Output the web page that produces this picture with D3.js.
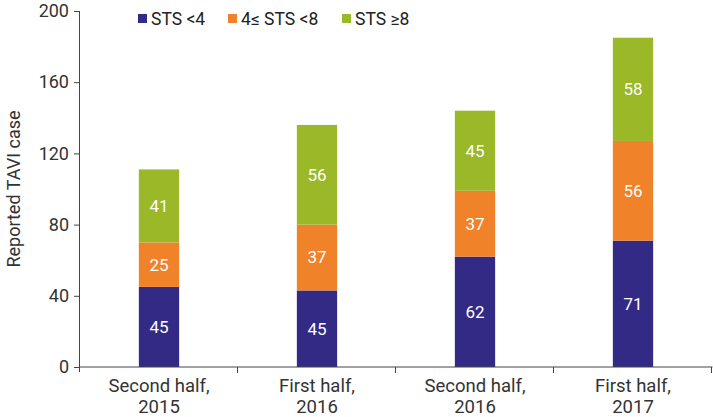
<!DOCTYPE html>
<html><head><meta charset="utf-8">
<script src="https://cdn.jsdelivr.net/npm/d3@7"></script>
<style>body{margin:0;background:#fff}svg{display:block;font-family:Roboto,"Open Sans",sans-serif}</style>
</head><body><svg id="c" width="713" height="417"></svg>
<script>
const categories = [["Second half,","2015"],["First half,","2016"],["Second half,","2016"],["First half,","2017"]];
const seriesNames = ["STS <4","4\u2264 STS <8","STS \u22658"];
const stsLow = [45, 43, 62, 71];
const stsMid = [25, 37, 37, 56];
const stsHigh = [41, 56, 45, 58];
const stsLowLabels = [45, 45, 62, 71];
const stsMidLabels = [25, 37, 37, 56];
const stsHighLabels = [41, 56, 45, 58];
const yTicks = [0, 40, 80, 120, 160, 200];
const colors = ["#332a85", "#f0832a", "#9ab827"];

const svg = d3.select("#c");
const m = {l:80, r:1, t:11, b:50};
const W = 713, H = 417;
const x = d3.scaleBand().domain(d3.range(categories.length)).range([m.l, W - m.r]).paddingInner(0.745).paddingOuter(0.3725);
const y = d3.scaleLinear().domain([0, 200]).range([367, 11]);

const labels = [stsLowLabels, stsMidLabels, stsHighLabels];
const rows = d3.range(categories.length).map(i => ({i, s0: stsLow[i], s1: stsMid[i], s2: stsHigh[i]}));
const stack = d3.stack().keys(["s0","s1","s2"])(rows);

stack.forEach((layer, k) => {
  const g = svg.append("g");
  g.selectAll("rect").data(layer).join("rect")
    .attr("x", d => x(d.data.i)).attr("width", x.bandwidth())
    .attr("y", d => y(d[1])).attr("height", d => y(d[0]) - y(d[1]))
    .attr("fill", colors[k]);
  g.selectAll("text").data(layer).join("text")
    .attr("x", d => x(d.data.i) + x.bandwidth()/2)
    .attr("y", d => (y(d[0]) + y(d[1]))/2)
    .attr("dy", "0.35em").attr("text-anchor", "middle")
    .attr("fill", "#fff").attr("font-size", 17)
    .text(d => labels[k][d.data.i]);
});

// y axis
const ya = svg.append("g").attr("transform", `translate(${m.l},0)`)
  .call(d3.axisLeft(y).tickValues(yTicks).tickSize(6).tickPadding(5));
ya.select(".domain").attr("d", `M-0.5,${y(200)}V372`).attr("stroke", "#444");
ya.selectAll(".tick line").attr("stroke", "#444");
ya.selectAll(".tick text").attr("font-size", 18).attr("fill", "#333").attr("font-family", "Roboto,sans-serif");

// x axis
const xa = svg.append("g").attr("transform", `translate(0,${y(0)})`);
xa.append("line").attr("x1", m.l).attr("x2", W - m.r + 0.5).attr("stroke", "#444");
const bounds = d3.range(1, categories.length + 1).map(i => x.step() * i + m.l);
xa.selectAll(".bt").data(bounds).join("line").attr("class","bt")
  .attr("x1", d => d - 0.5).attr("x2", d => d - 0.5).attr("y1", 0).attr("y2", 6).attr("stroke", "#444");
xa.selectAll(".cl").data(categories).join("text").attr("class","cl")
  .attr("x", (d, i) => x(i) + x.bandwidth()/2).attr("y", 25)
  .attr("text-anchor", "middle").attr("font-size", 18.5).attr("fill", "#333")
  .selectAll("tspan").data(d => d).join("tspan")
  .attr("x", function(){ return this.parentNode.getAttribute("x"); })
  .attr("dy", (d, j) => j === 0 ? 0 : 21).text(d => d);

// y label
svg.append("text").attr("transform", `translate(20,${(y(0)+y(200))/2}) rotate(-90)`)
  .attr("text-anchor", "middle").attr("font-size", 18).attr("fill", "#333").text("Reported TAVI case");

// legend
const legX = [138, 228, 342];
const leg = svg.append("g");
seriesNames.forEach((n, k) => {
  leg.append("rect").attr("x", legX[k]).attr("y", 14).attr("width", 9).attr("height", 9).attr("fill", colors[k]);
  leg.append("text").attr("x", legX[k] + 13).attr("y", 24.5).attr("font-size", 17.5).attr("fill", "#222").text(n);
});
</script></body></html>
